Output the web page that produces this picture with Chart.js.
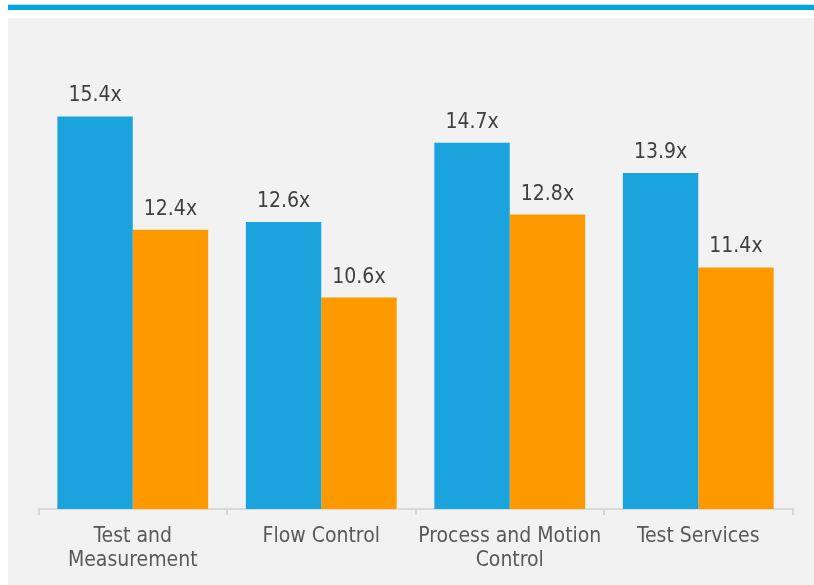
<!DOCTYPE html>
<html>
<head>
<meta charset="utf-8">
<script src="https://cdn.jsdelivr.net/npm/chart.js@4/dist/chart.umd.min.js"></script>
<style>
  html, body { margin: 0; padding: 0; background: #ffffff; }
  body { width: 814px; height: 585px; position: relative; overflow: hidden; }
  #topline { position: absolute; left: 8px; top: 4px; width: 806px; height: 5px; background: #00a5e3; border-top: 1px solid #bfe6f6; }
  #panel { position: absolute; left: 8px; top: 18px; width: 806px; height: 567px; background: #f2f2f2; }
  #wrap { position: absolute; left: 0; top: 0; width: 814px; height: 585px; }
</style>
</head>
<body>
<div id="topline"></div>
<div id="panel"></div>
<div id="wrap"><canvas id="c" width="814" height="585"></canvas></div>
<script>
const categories = [["Test and", "Measurement"], "Flow Control", ["Process and Motion", "Control"], "Test Services"];
const seriesA = [15.4, 12.6, 14.7, 13.9];
const seriesB = [12.4, 10.6, 12.8, 11.4];
const labelSuffix = "x";
const yMin = 5;
const yMax = 17;

const valueLabels = {
  id: 'valueLabels',
  afterDatasetsDraw(chart) {
    const ctx = chart.ctx;
    ctx.save();
    ctx.font = '21px "DejaVu Sans Condensed", "DejaVu Sans", sans-serif';
    ctx.fillStyle = '#404040';
    ctx.textAlign = 'center';
    ctx.textBaseline = 'alphabetic';
    chart.data.datasets.forEach((ds, i) => {
      const meta = chart.getDatasetMeta(i);
      meta.data.forEach((bar, j) => {
        ctx.fillText(ds.data[j].toFixed(1) + labelSuffix, bar.x, bar.y - 15);
      });
    });
    ctx.restore();
  }
};

new Chart(document.getElementById('c'), {
  type: 'bar',
  data: {
    labels: categories,
    datasets: [
      { data: seriesA, backgroundColor: '#1aa3dc', borderWidth: 0, categoryPercentage: 0.8, barPercentage: 1.0 },
      { data: seriesB, backgroundColor: '#ff9900', borderWidth: 0, categoryPercentage: 0.8, barPercentage: 1.0 }
    ]
  },
  options: {
    responsive: false,
    animation: false,
    devicePixelRatio: 1,
    layout: { padding: { left: 38.5, right: 21.5, top: 56, bottom: 0 } },
    plugins: { legend: { display: false }, tooltip: { enabled: false } },
    scales: {
      x: {
        grid: { display: true, offset: true, drawOnChartArea: false, drawTicks: true, tickLength: 6, color: '#d6d6d6', lineWidth: 2 },
        border: { display: true, color: '#d9d9d9', width: 2 },
        ticks: {
          color: '#595959',
          padding: 9,
          maxRotation: 0,
          autoSkip: false,
          font: { family: '"DejaVu Sans Condensed", "DejaVu Sans", sans-serif', size: 21, lineHeight: 1.15 }
        },
        afterFit(scale) { scale.height = 76; }
      },
      y: {
        display: false,
        min: yMin,
        max: yMax
      }
    }
  },
  plugins: [valueLabels]
});
</script>
</body>
</html>
